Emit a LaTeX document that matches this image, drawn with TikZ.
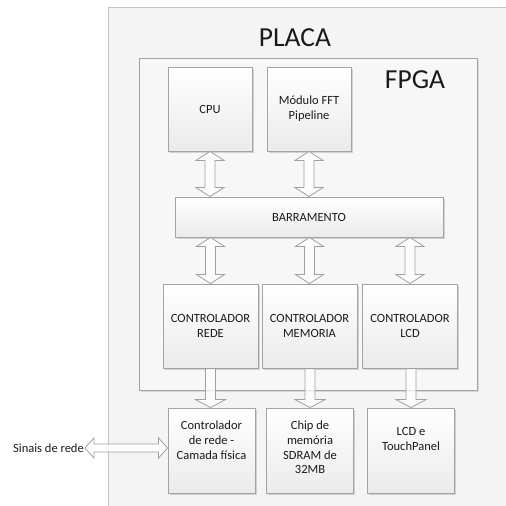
\documentclass[tikz,border=0pt]{standalone}
\usepackage{fontspec}
\setmainfont{Carlito}
\usetikzlibrary{shadows,calc}
\definecolor{boxline}{HTML}{A3A3A3}
\definecolor{boardline}{HTML}{C4C4C4}
\definecolor{boardfill}{HTML}{F4F4F4}
\definecolor{fpgafill}{HTML}{F7F7F7}
\definecolor{txt}{HTML}{1A1A1A}
\definecolor{arrowline}{HTML}{A0A0A0}
\tikzset{
  blk/.style={draw=boxline, line width=0.9pt, top color=white, bottom color=black!8,
    drop shadow={shadow xshift=1.6pt, shadow yshift=-1.6pt, opacity=0.25, fill=black!60},
    text=txt, align=center, font=\fontsize{12.5}{14.8}\selectfont, inner sep=0pt},
  bigbox/.style={blk, minimum width=84pt, minimum height=84pt},
  ctlbox/.style={blk, minimum width=95pt, minimum height=84pt},
  lowbox/.style={blk, minimum width=87pt, minimum height=85pt},
  lbl/.style={text=txt, align=center, font=\fontsize{12.5}{14.8}\selectfont, inner sep=0pt},
  title/.style={text=txt, font=\fontsize{27.5}{30}\selectfont, inner sep=0pt},
  barrow/.style={draw=arrowline, line width=0.8pt, fill=white, fill opacity=0.75, line join=miter}
}
% vertical double-headed block arrow between two points (same x as the first)
\newcommand\dblvarrow[2]{%
  \path[barrow] let \p1=(#1), \p2=(#2) in
    (\x1,\y1) -- (\x1+14pt,\y1-9pt) -- (\x1+5pt,\y1-9pt) -- (\x1+5pt,\y2+9pt)
    -- (\x1+14pt,\y2+9pt) -- (\x1,\y2) -- (\x1-14pt,\y2+9pt) -- (\x1-5pt,\y2+9pt)
    -- (\x1-5pt,\y1-9pt) -- (\x1-14pt,\y1-9pt) -- cycle;}
% vertical single-headed block arrow pointing down
\newcommand\downarrowblk[2]{%
  \path[barrow] let \p1=(#1), \p2=(#2) in
    (\x2-5pt,\y1) -- (\x2-5pt,\y2+8pt) -- (\x2-15pt,\y2+8pt) -- (\x2,\y2)
    -- (\x2+15pt,\y2+8pt) -- (\x2+5pt,\y2+8pt) -- (\x2+5pt,\y1) -- cycle;}
\begin{document}
\begin{tikzpicture}[x=1pt,y=-1pt]
\useasboundingbox (0,0) rectangle (506,506);
\clip (0,0) rectangle (506,506);
\fill[white] (0,0) rectangle (506,506);

% board and FPGA outlines
\path[draw=boardline, line width=0.9pt, fill=boardfill] (108,7) rectangle (530,530);
\node[title] (placa) at (295,38) {PLACA};
\path[draw=boxline, line width=0.9pt, fill=fpgafill,
  drop shadow={shadow xshift=1.6pt, shadow yshift=-1.6pt, opacity=0.2, fill=black!60}]
  (139,58) rectangle (477,390);
\node[title] (fpga) at (415,80) {FPGA};

% FPGA blocks
\node[bigbox] (cpu) at (210,109) {CPU};
\node[bigbox] (fft) at (309,109) {Módulo FFT\\Pipeline};
\node[blk, minimum width=268pt, minimum height=40pt] (bar) at (309,217) {BARRAMENTO};
\node[ctlbox] (crede) at (210.5,326) {CONTROLADOR\\REDE};
\node[ctlbox] (cmem) at (309.5,326) {CONTROLADOR\\MEMORIA};
\node[ctlbox] (clcd) at (410,326) {CONTROLADOR\\LCD};

% external devices on the board
\node[lowbox] (phy) at (211.5,450.5) {};
\node[lowbox] (sdram) at (310,450.5) {};
\node[lowbox] (lcd) at (411,450.5) {};
\node[lbl, anchor=north] (phytxt) at ([yshift=-13pt]phy.north) {Controlador\\de rede -\\Camada física};
\node[lbl, anchor=north] (sdramtxt) at ([yshift=-13pt]sdram.north) {Chip de\\memória\\SDRAM de\\32MB};
\node[lbl, anchor=north] (lcdtxt) at ([yshift=-20pt]lcd.north) {LCD e\\TouchPanel};

% bus connections
\dblvarrow{cpu.south}{bar.north}
\dblvarrow{fft.south}{bar.north}
\dblvarrow{bar.south -| crede.north}{crede.north}
\dblvarrow{bar.south -| cmem.north}{cmem.north}
\dblvarrow{bar.south -| clcd.north}{clcd.north}

% controllers to devices
\downarrowblk{crede.south}{phy.north -| crede.south}
\downarrowblk{cmem.south}{sdram.north}
\downarrowblk{clcd.south}{lcd.north}

% external network signals
\node[lbl, anchor=east] (sinais) at (84,448) {Sinais de rede};
\path[barrow] let \p1=(sinais.east), \p2=(phy.west) in
  (\x1+1pt,\y1) -- (\x1+10pt,\y1+10pt) -- (\x1+10pt,\y1+4pt) -- (\x2-9pt,\y1+4pt)
  -- (\x2-9pt,\y1+10pt) -- (\x2,\y1) -- (\x2-9pt,\y1-10pt) -- (\x2-9pt,\y1-4pt)
  -- (\x1+10pt,\y1-4pt) -- (\x1+10pt,\y1-10pt) -- cycle;
\end{tikzpicture}
\end{document}
